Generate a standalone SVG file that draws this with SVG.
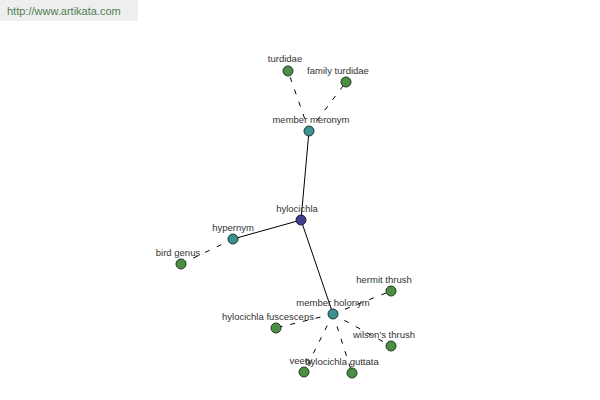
<svg xmlns="http://www.w3.org/2000/svg" width="600" height="400" viewBox="0 0 600 400">
<style>
.bg{fill:#ffffff}
.wm{fill:#eeeeee}
.wmt{font-family:"Liberation Sans",Arial,sans-serif;font-size:11px;fill:#4f7f4f}
.e{stroke:#000;stroke-width:1;fill:none}
.d{stroke-dasharray:5,8}
.lbl{font-family:"Liberation Sans",Arial,sans-serif;font-size:9.5px;fill:#333;text-anchor:middle}
.leaf{fill:#4d8e45;stroke:#1f3a1f;stroke-width:1}
.mid{fill:#3c9090;stroke:#1c3a3a;stroke-width:1}
.root{fill:#40408f;stroke:#1c1c40;stroke-width:1}
</style>
<rect class="bg" x="0" y="0" width="600" height="400"/>
<rect class="wm" x="0" y="0" width="138" height="21"/>
<text class="wmt" x="7" y="15">http://www.artikata.com</text>
<g id="connectors">
<line class="e" x1="309" y1="131" x2="301" y2="220"/>
<line class="e" x1="301" y1="220" x2="233" y2="239"/>
<line class="e" x1="301" y1="220" x2="333" y2="314"/>
<line class="e d" x1="309" y1="131" x2="288" y2="71"/>
<line class="e d" x1="309" y1="131" x2="346" y2="82"/>
<line class="e d" x1="233" y1="239" x2="181" y2="264"/>
<line class="e d" x1="333" y1="314" x2="391" y2="291"/>
<line class="e d" x1="333" y1="314" x2="276" y2="328"/>
<line class="e d" x1="333" y1="314" x2="391" y2="346"/>
<line class="e d" x1="333" y1="314" x2="304" y2="372"/>
<line class="e d" x1="333" y1="314" x2="352" y2="373"/>
</g>
<g id="turdidae"><circle class="leaf" cx="288" cy="71" r="5"/><text class="lbl" x="285" y="62">turdidae</text></g>
<g id="family-turdidae"><circle class="leaf" cx="346" cy="82" r="5"/><text class="lbl" x="338" y="74">family turdidae</text></g>
<g id="member-meronym"><circle class="mid" cx="309" cy="131" r="5"/><text class="lbl" x="311" y="123">member meronym</text></g>
<g id="hylocichla"><circle class="root" cx="301" cy="220" r="5"/><text class="lbl" x="297" y="212">hylocichla</text></g>
<g id="hypernym"><circle class="mid" cx="233" cy="239" r="5"/><text class="lbl" x="233" y="231">hypernym</text></g>
<g id="bird-genus"><circle class="leaf" cx="181" cy="264" r="5"/><text class="lbl" x="178" y="256">bird genus</text></g>
<g id="member-holonym"><circle class="mid" cx="333" cy="314" r="5"/><text class="lbl" x="333" y="306">member holonym</text></g>
<g id="hermit-thrush"><circle class="leaf" cx="391" cy="291" r="5"/><text class="lbl" x="384" y="283">hermit thrush</text></g>
<g id="hylocichla-fuscescens"><circle class="leaf" cx="276" cy="328" r="5"/><text class="lbl" x="268" y="320">hylocichla fuscescens</text></g>
<g id="wilsons-thrush"><circle class="leaf" cx="391" cy="346" r="5"/><text class="lbl" x="384" y="338">wilson's thrush</text></g>
<g id="veery"><circle class="leaf" cx="304" cy="372" r="5"/><text class="lbl" x="301" y="364">veery</text></g>
<g id="hylocichla-guttata"><circle class="leaf" cx="352" cy="373" r="5"/><text class="lbl" x="342" y="365">hylocichla guttata</text></g>
</svg>
